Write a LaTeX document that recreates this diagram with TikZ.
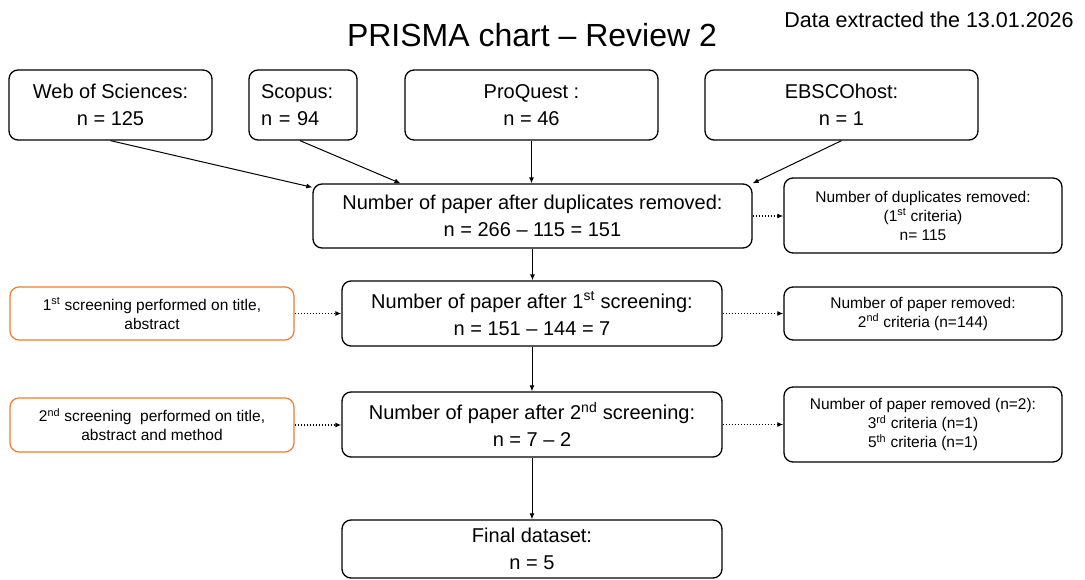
\documentclass[tikz,border=0pt]{standalone}
\usepackage{fontspec}
\setmainfont{Liberation Sans}
\usetikzlibrary{arrows.meta}
\definecolor{boxorange}{HTML}{ED7D31}
\begin{document}
\begin{tikzpicture}[x=1pt,y=-1pt,
  box/.style={draw=black,line width=1.3pt,rounded corners=9pt,align=center,inner sep=0pt},
  obox/.style={box,draw=boxorange,line width=1.2pt},
  big/.style={font=\fontsize{20}{27}\selectfont},
  small/.style={font=\fontsize{15.5}{19}\selectfont},
  arr/.style={-{Latex[length=6pt,width=5pt]},line width=1pt},
  dotarr/.style={arr,dotted,line width=1.2pt}]
\useasboundingbox (0,0) rectangle (1085,580);

\node (title) at (532,35) {\fontsize{32}{34}\selectfont PRISMA chart – Review 2};
\node (date) at (929,20) {\fontsize{21.5}{24}\selectfont Data extracted the 13.01.2026};

\node[box,big,minimum width=203pt,minimum height=70pt] (wos) at (110.5,105) {Web of Sciences:\\n = 125};
\node[box,big,minimum width=108pt,minimum height=70pt,text width=84pt,align=left] (scopus) at (303,105) {Scopus:\\n = 94};
\node[box,big,minimum width=253pt,minimum height=70pt] (pq) at (531.5,105) {ProQuest :\\n = 46};
\node[box,big,minimum width=273pt,minimum height=70pt] (ebsco) at (841.5,105) {EBSCOhost:\\n = 1};

\node[box,big,minimum width=439pt,minimum height=64pt] (dup) at (532.5,216) {Number of paper after duplicates removed:\\n = 266 – 115 = 151};
\node[box,small,minimum width=278pt,minimum height=75pt] (duprem) at (923,215.5) {Number of duplicates removed:\\(1\textsuperscript{st} criteria)\\n= 115};

\node[obox,small,minimum width=284pt,minimum height=53pt] (scr1) at (152,313.5) {1\textsuperscript{st} screening performed on title,\\abstract};
\node[box,big,minimum width=380pt,minimum height=65pt] (after1) at (532,313.5) {Number of paper after 1\textsuperscript{st} screening:\\n = 151 – 144 = 7};
\node[box,small,minimum width=278pt,minimum height=53pt] (rem2) at (923,313.5) {Number of paper removed:\\2\textsuperscript{nd} criteria (n=144)};

\node[obox,small,minimum width=284pt,minimum height=54pt] (scr2) at (152,425) {2\textsuperscript{nd} screening\ \ performed on title,\\abstract and method};
\node[box,big,minimum width=380pt,minimum height=65pt] (after2) at (532,424.5) {Number of paper after 2\textsuperscript{nd} screening:\\n = 7 – 2};
\node[box,small,minimum width=278pt,minimum height=75pt] (rem3) at (923,424.5) {Number of paper removed (n=2):\\3\textsuperscript{rd} criteria (n=1)\\5\textsuperscript{th} criteria (n=1)};

\node[box,big,minimum width=380pt,minimum height=58pt] (final) at (532,549) {Final dataset:\\n = 5};

\draw[arr] (wos.south) -- ([yshift=-4pt]dup.north west);
\draw[arr] ([xshift=-3pt]scopus.south) -- ([xshift=-132pt]dup.north);
\draw[arr] (pq.south) -- (pq.south |- dup.north);
\draw[arr] (ebsco.south) -- (dup.north east);

\draw[arr] (dup.south) -- (dup.south |- after1.north);
\draw[arr] (after1.south) -- (after2.north);
\draw[arr] (after2.south) -- (final.north);

\draw[dotarr] (dup.east) -- (duprem.west |- dup.east);
\draw[dotarr] (scr1.east) -- (after1.west |- scr1.east);
\draw[dotarr] (after1.east) -- (rem2.west |- after1.east);
\draw[dotarr] (scr2.east) -- (after2.west |- scr2.east);
\draw[dotarr] (after2.east) -- (rem3.west |- after2.east);
\end{tikzpicture}
\end{document}
